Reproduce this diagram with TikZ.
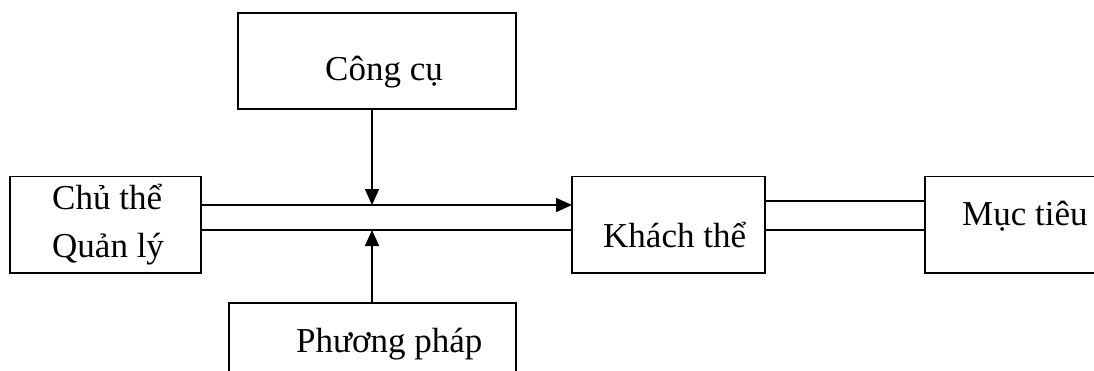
\documentclass[tikz,border=0pt]{standalone}
\usepackage{fontspec}
\setmainfont{Liberation Serif}
\usetikzlibrary{arrows.meta}
\begin{document}
\begin{tikzpicture}[x=1pt,y=-1pt,
  box/.style={draw,line width=1.4pt,inner sep=0pt,outer sep=0pt},
  lbl/.style={anchor=base west,inner sep=0pt,font=\fontsize{35}{48}\selectfont},
  conn/.style={line width=1.6pt},
  arr/.style={conn,-{Triangle[length=16pt,width=14pt]}}]
\clip (0,0) rectangle (1094,370);
\fill[white] (0,0) rectangle (1094,370);
% boxes
\node[box,minimum width=191pt,minimum height=96.5pt] (chu) at (105.5,224.75) {};
\node[box,minimum width=278pt,minimum height=96pt] (cong) at (377,61) {};
\node[box,minimum width=287pt,minimum height=120pt] (phuong) at (372.5,363) {};
\node[box,minimum width=193pt,minimum height=96.5pt] (khach) at (668.5,224.75) {};
\node[box,minimum width=230pt,minimum height=96.5pt] (muc) at (1040,224.75) {};
% labels
\node[lbl] (tchu1) at (52,209) {Chủ thể};
\node[lbl] (tchu2) at (52,257) {Quản lý};
\node[lbl] (tcong) at (325,80) {Công cụ};
\node[lbl] (tphuong) at (296,352) {Phương pháp};
\node[lbl] (tkhach) at (603,247) {Khách thể};
\node[lbl] (tmuc) at (962,225) {Mục tiêu};
% junctions
\coordinate (j1) at (372,205);
\coordinate (j2) at (372,230);
\coordinate (k1) at (0,201);
\coordinate (k2) at (0,230);
% connectors
\draw[arr] (chu.east |- j1) -- (khach.west |- j1);
\draw[conn] (chu.east |- j2) -- (khach.west |- j2);
\draw[arr] (cong.south -| j1) -- (j1);
\draw[arr] (phuong.north -| j2) -- (j2);
\draw[conn] (khach.east |- k1) -- (muc.west |- k1);
\draw[conn] (khach.east |- k2) -- (muc.west |- k2);
\end{tikzpicture}
\end{document}
